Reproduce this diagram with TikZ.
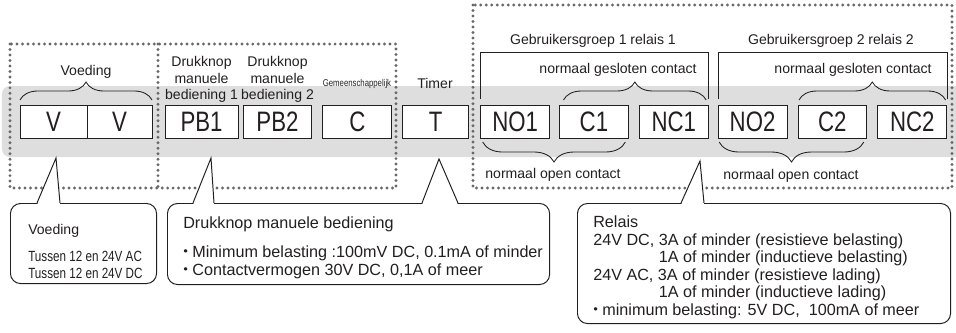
\documentclass[tikz,border=0pt]{standalone}
\usepackage{fontspec}
\setmainfont{Liberation Sans}
\newfontfamily\narrowfont[FakeStretch=0.79]{Liberation Sans}
\newfontfamily\cjk{Noto Sans CJK JP}
\usepackage{tikz}
\usetikzlibrary{decorations.pathreplacing, positioning, calc}
\definecolor{bandgray}{RGB}{222, 222, 222}
\definecolor{dotgray}{RGB}{105, 105, 105}
\definecolor{inkblack}{RGB}{35, 31, 32}
\newcommand{\bul}{\kern-4pt{\cjk ・}\kern-1pt}

\begin{document}
\begin{tikzpicture}[
  x=0.025cm, y=-0.025cm,
  term/.style={draw=inkblack, fill=white, line width=0.6pt, minimum width=1.72cm,
    minimum height=0.825cm, inner sep=0pt, outer sep=0pt, text=inkblack,
    font=\narrowfont\fontsize{20}{20}\selectfont},
  lbl/.style={font=\fontsize{10}{11.7}\selectfont, text=inkblack, align=center, inner sep=0pt},
  tinylbl/.style={font=\narrowfont\fontsize{7}{8}\selectfont, text=inkblack, inner sep=0pt},
  bracetop/.style={decorate, decoration={brace, amplitude=0.45cm}, draw=inkblack, line width=0.6pt},
  bracebot/.style={decorate, decoration={brace, amplitude=0.5cm, mirror}, draw=inkblack, line width=0.6pt},
  bracket/.style={draw=inkblack, line width=0.6pt},
  frame/.style={draw=dotgray, line width=2.3pt, line cap=round, dash pattern=on 0pt off 3.9pt},
  callout/.style={draw=inkblack, fill=white, line width=0.7pt, rounded corners=0.25cm,
    inner sep=0pt, anchor=north west},
  pointer/.style={draw=inkblack, line width=0.7pt, line join=miter},
  note/.style={font=\fontsize{11.5}{12.4}\selectfont, text=inkblack, align=left,
    inner sep=0pt, anchor=base west}
]
\useasboundingbox (0,0) rectangle (956,332);

% Terminal strip
\fill[bandgray, rounded corners=0.2cm] (2,86) rectangle (990,157);

% Dotted groups
\draw[frame] (10,44) rectangle (396,188);
\draw[frame] (158,44) -- (158,188);
\draw[frame] (473,5) rectangle (952,188);

% Terminals
\node[term, minimum width=1.675cm] (v1) at (53.5,121.5) {V};
\node[term, minimum width=1.625cm, right=0pt of v1] (v2) {V};
\node[term, minimum width=1.825cm, right=0.325cm of v2] (pb1) {PB1};
\node[term, right=0.125cm of pb1] (pb2) {PB2};
\node[term, right=0.275cm of pb2] (com) {C};
\node[term, minimum width=1.65cm, right=0.275cm of com] (tim) {T};
\node[term, right=0.3cm of tim] (no1) {NO1};
\node[term, right=0.25cm of no1] (c1) {C1};
\node[term, right=0.275cm of c1] (nc1) {NC1};
\node[term, right=0.25cm of nc1] (no2) {NO2};
\node[term, right=0.275cm of no2] (c2) {C2};
\node[term, right=0.275cm of c2] (nc2) {NC2};

% Braces and brackets
\draw[bracetop] ($(v1.north west)+(0,-5)$) -- ($(v2.north east)+(0,-5)$);
\draw[bracetop] ($(c1.north west)+(4,-5)$) -- ($(nc1.north east)+(-2,-5)$);
\draw[bracetop] ($(c2.north west)+(1,-5)$) -- ($(nc2.north east)+(-1,-5)$);
\draw[bracebot] ($(no1.south west)+(2,4)$) -- ($(c1.south east)+(-3,4)$);
\draw[bracebot] ($(no2.south west)+(1,4)$) -- ($(c2.south east)+(-3,4)$);
\draw[bracket] ($(no1.north west)+(0,-6)$) -- ++(0,-47) -| ($(nc1.north east)+(0,-6)$);
\draw[bracket] ($(no2.north west)+(0,-6)$) -- ++(0,-47) -| ($(nc2.north east)+(1,-6)$);

% Labels
\node[lbl] (voedlbl) at (86,72) {Voeding};
\node[lbl] (pb1lbl) at (201.5,79.5) {Drukknop\\manuele\\bediening 1};
\node[lbl] (pb2lbl) at (277.5,79.5) {Drukknop\\manuele\\bediening 2};
\node[tinylbl] (comlbl) at (357,84) {Gemeenschappelijk};
\node[lbl] (timlbl) at (435,83) {Timer};
\node[lbl] (grp1lbl) at (593,41) {Gebruikersgroep 1 relais 1};
\node[lbl] (nc1lbl) at (618,70) {normaal gesloten contact};
\node[lbl] (no1lbl) at (553,175) {normaal open contact};
\node[lbl] (grp2lbl) at (831,41) {Gebruikersgroep 2 relais 2};
\node[lbl] (nc2lbl) at (853,70) {normaal gesloten contact};
\node[lbl] (no2lbl) at (791,176) {normaal open contact};

% Callouts
\node[callout, minimum width=3.65cm, minimum height=2cm] (vcall) at (10,203) {};
\node[callout, minimum width=9.55cm, minimum height=2.025cm] (dcall) at (167,203) {};
\node[callout, minimum width=9.325cm, minimum height=3cm] (rcall) at (577,203) {};

\coordinate (vtip) at (56,158);
\coordinate (pbtip) at (211,158);
\coordinate (ttip) at (439,159);
\coordinate (rtip) at (700,161);
\fill[white] (37,205) -- (vtip) -- (60,205) -- cycle;
\draw[pointer] (37,203) -- (vtip) -- (60,203);
\fill[white] (193,205) -- (pbtip) -- (214,205) -- cycle;
\draw[pointer] (193,203) -- (pbtip) -- (214,203);
\fill[white] (422,205) -- (ttip) -- (458,205) -- cycle;
\draw[pointer] (422,203) -- (ttip) -- (458,203);
\fill[white] (681,205) -- (rtip) -- (704,205) -- cycle;
\draw[pointer] (681,203) -- (rtip) -- (704,203);

\node[note, font=\fontsize{10}{11.4}\selectfont] (vtext) at (28,278)
  {Voeding\\[7.8pt]{\narrowfont\fontsize{10.5}{11.4}\selectfont Tussen 12 en 24V AC}\\{\narrowfont\fontsize{10.5}{11.4}\selectfont Tussen 12 en 24V DC}};
\node[note, font=\fontsize{11.5}{12.8}\selectfont] (dtext) at (183,275)
  {Drukknop manuele bediening\\[7.8pt]\bul Minimum belasting :100mV DC, 0.1mA of minder\\\bul Contactvermogen 30V DC, 0,1A of meer};
\node[note] (rtext) at (593,315)
  {Relais\\24V DC, 3A of minder (resistieve belasting)\\\phantom{24V DC, }1A of minder (inductieve belasting)\\24V AC, 3A of minder (resistieve lading)\\\phantom{24V DC, }1A of minder (inductieve lading)\\\bul minimum belasting: 5V DC, \ 100mA of meer};

\end{tikzpicture}
\end{document}
